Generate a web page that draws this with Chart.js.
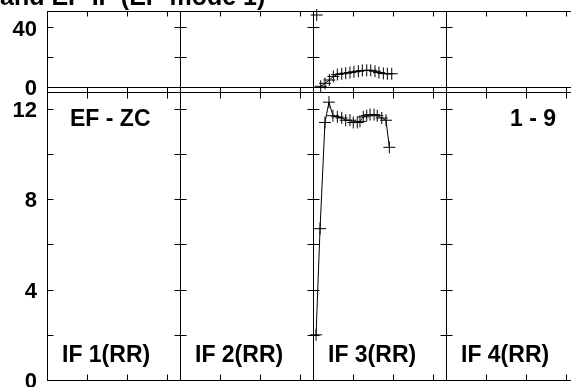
<!DOCTYPE html>
<html>
<head>
<meta charset="utf-8">
<script src="https://cdn.jsdelivr.net/npm/chart.js@4"></script>
<style>
	html, body { margin: 0; padding: 0; background: #fff; overflow: hidden; }
	.chart { position: relative; width: 571px; height: 387px; overflow: hidden; }
	.chart__canvas { position: absolute; left: 0; top: -20px; }
</style>
</head>
<body>
<div class="chart"><canvas class="chart__canvas" width="600" height="430"></canvas></div>
<script>
const titleText = "and EF-IF (EF-mode 1)";
const cornerLeft = "EF - ZC";
const cornerRight = "1 - 9";
const panelLabels = ["IF 1(RR)", "IF 2(RR)", "IF 3(RR)", "IF 4(RR)"];
const panelSpan = 10;
const panelTicks = [3, 6, 9];
const dataPanel = 3;

const topTicks = [0, 20, 40];
const topLabels = [0, 40];
const bottomTicks = [0, 2, 4, 6, 8, 10, 12];
const bottomLabels = [0, 4, 8, 12];

// lower panel series (EF - ZC)
const zcX = [0.23, 0.53, 0.9, 1.2, 1.5, 1.83, 2.16, 2.46, 2.78, 3.03, 3.33, 3.53, 3.78, 4.04, 4.29, 4.59, 4.83, 5.17, 5.49, 5.74];
const zcY = [2.0, 6.7, 11.4, 12.3, 11.7, 11.65, 11.6, 11.5, 11.5, 11.4, 11.4, 11.45, 11.65, 11.7, 11.75, 11.75, 11.7, 11.6, 11.5, 10.3];

// upper panel series
const modeX = [0.58, 0.9, 1.23, 1.53, 1.83, 2.16, 2.46, 2.78, 3.08, 3.41, 3.71, 4.04, 4.34, 4.66, 4.96, 5.29, 5.59, 5.92];
const modeY = [0.5, 2.5, 4.7, 7.1, 8.4, 8.9, 9.3, 9.7, 10.2, 10.6, 11.1, 11.2, 11.2, 10.6, 9.7, 9.1, 8.9, 8.9];
const spikeX = [0.28];
const spikeY = [48.4];

const font = "'Liberation Sans', Arial, sans-serif";

function toPoints(xs, ys) {
	const offset = (dataPanel - 1) * panelSpan;
	return xs.map((x, i) => ({ x: offset + x, y: ys[i] }));
}

function series(data, axis, showLine) {
	return {
		data: data,
		yAxisID: axis,
		showLine: showLine,
		borderColor: "#000",
		backgroundColor: "#000",
		borderWidth: 1,
		pointStyle: "cross",
		pointRadius: 6,
		pointBorderWidth: 1,
		tension: 0,
		clip: false,
	};
}

const framePlugin = {
	id: "frame",
	beforeDatasetsDraw(chart) {
		const { ctx, chartArea, scales } = chart;
		const x = scales.x;
		const yTop = scales.yTop;
		const yBot = scales.yBot;
		const px = (v) => Math.round(x.getPixelForValue(v)) + 0.5;
		const py = (s, v) => Math.round(s.getPixelForValue(v)) + 0.5;

		const top = py(yTop, yTop.max);
		const zero = py(yTop, 0);
		const mid = py(yBot, yBot.max);
		const bottom = py(yBot, 0);

		ctx.save();
		ctx.strokeStyle = "#000";
		ctx.lineWidth = 1;
		ctx.beginPath();

		[top, zero, mid, bottom].forEach((y) => {
			ctx.moveTo(chartArea.left, y);
			ctx.lineTo(chartArea.right, y);
		});

		for (let p = 0; p <= panelLabels.length; p++) {
			const X = px(p * panelSpan);
			ctx.moveTo(X, top);
			ctx.lineTo(X, bottom);

			const left = p === 0 ? 0 : 6;
			const right = p === panelLabels.length ? 0 : 6;
			topTicks.forEach((v) => {
				const Y = py(yTop, v);
				ctx.moveTo(X - left, Y);
				ctx.lineTo(X + right, Y);
			});
			bottomTicks.forEach((v) => {
				const Y = py(yBot, v);
				ctx.moveTo(X - left, Y);
				ctx.lineTo(X + right, Y);
			});

			if (p < panelLabels.length) {
				panelTicks.forEach((t) => {
					const T = px(p * panelSpan + t);
					ctx.moveTo(T, top);
					ctx.lineTo(T, top + 5);
					ctx.moveTo(T, zero);
					ctx.lineTo(T, zero + 11);
					ctx.moveTo(T, bottom);
					ctx.lineTo(T, bottom - 6);
				});
			}
		}
		ctx.stroke();
		ctx.restore();
	},
	afterDraw(chart) {
		const { ctx, scales } = chart;
		const x = scales.x;
		const yTop = scales.yTop;
		const yBot = scales.yBot;

		ctx.save();
		ctx.fillStyle = "#000";
		ctx.textAlign = "left";
		ctx.textBaseline = "alphabetic";

		ctx.font = "bold 25px " + font;
		ctx.fillText(titleText, 0, yTop.getPixelForValue(yTop.max) - 6);

		ctx.font = "bold 23px " + font;
		const upper = yBot.getPixelForValue(12) + 17;
		ctx.fillText(cornerLeft, x.getPixelForValue(0) + 23, upper);
		ctx.fillText(cornerRight, x.getPixelForValue(3 * panelSpan) + 64, upper);

		const lower = yBot.getPixelForValue(0) - 18;
		panelLabels.forEach((label, p) => {
			ctx.fillText(label, x.getPixelForValue(p * panelSpan) + 15, lower);
		});
		ctx.restore();
	},
};

function yAxis(min, max, ticks, labels, weight, stackWeight) {
	return {
		type: "linear",
		position: "left",
		stack: "panels",
		stackWeight: stackWeight,
		weight: weight,
		min: min,
		max: max,
		grid: { display: false, drawTicks: false },
		border: { display: false },
		afterBuildTicks: (scale) => {
			scale.ticks = ticks.map((v) => ({ value: v }));
		},
		afterFit: (scale) => {
			scale.width = 47;
		},
		ticks: {
			autoSkip: false,
			padding: 10,
			labelOffset: 2,
			color: "#000",
			font: { family: font, size: 22, weight: "bold" },
			callback: (value) => (labels.includes(value) ? String(value) : ""),
		},
	};
}

function render() {
	const chartDOM = document.querySelector(".chart__canvas");

	new Chart(chartDOM, {
		type: "scatter",
		data: {
			datasets: [
				series(toPoints(zcX, zcY), "yBot", true),
				series(toPoints(modeX, modeY), "yTop", true),
				series(toPoints(spikeX, spikeY), "yTop", false),
			],
		},
		options: {
			responsive: false,
			animation: false,
			layout: { padding: { top: 31, bottom: 30, left: 0, right: 21 } },
			plugins: {
				legend: { display: false },
				tooltip: { enabled: false },
			},
			scales: {
				x: {
					type: "linear",
					display: false,
					min: 0,
					max: panelLabels.length * panelSpan,
				},
				yTop: yAxis(-3.36, 51.09, topTicks, topLabels, 1, 81),
				yBot: yAxis(0, 12.75, bottomTicks, bottomLabels, 0, 288),
			},
		},
		plugins: [framePlugin],
	});
}

render();
</script>
</body>
</html>
